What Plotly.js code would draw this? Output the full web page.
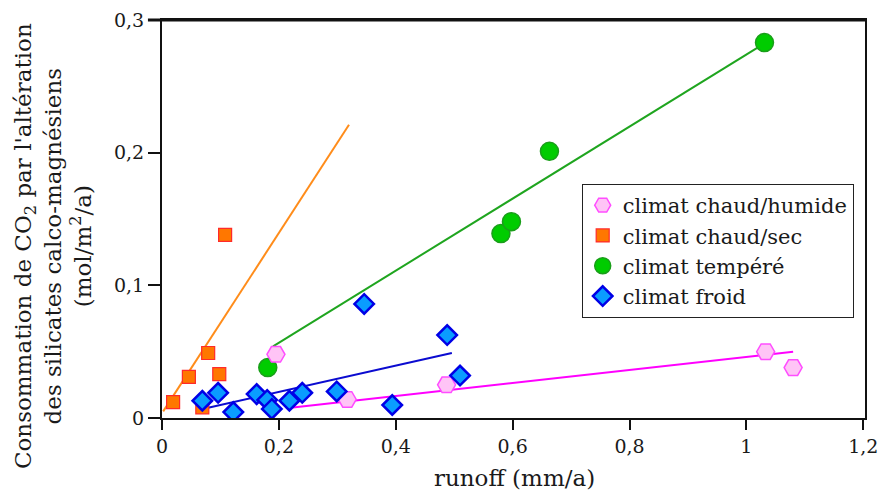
<!DOCTYPE html>
<html>
<head>
<meta charset="utf-8">
<script src="https://cdn.plot.ly/plotly-3.0.1.min.js"></script>
<style>html,body{margin:0;padding:0;background:#fff;}#chart{width:883px;height:495px;}</style>
</head>
<body>
<div id="chart"></div>
<script>
// ---- data ----
const seriesNames = ["climat chaud/humide", "climat chaud/sec", "climat tempéré", "climat froid"];

const humideX = [0.195, 0.317, 0.487, 1.033, 1.080];
const humideY = [0.048, 0.014, 0.025, 0.050, 0.038];
const humideFitX = [0.224, 1.080];
const humideFitY = [0.008, 0.050];

const secX = [0.019, 0.046, 0.069, 0.079, 0.098, 0.108];
const secY = [0.012, 0.031, 0.008, 0.049, 0.033, 0.138];
const secFitX = [0.002, 0.320];
const secFitY = [0.005, 0.221];

const tempereX = [0.181, 0.580, 0.598, 0.663, 1.031];
const tempereY = [0.038, 0.139, 0.148, 0.201, 0.283];
const tempereFitX = [0.190, 1.022];
const tempereFitY = [0.054, 0.280];

const froidX = [0.069, 0.096, 0.122, 0.162, 0.180, 0.188, 0.218, 0.240, 0.299, 0.346, 0.394, 0.488, 0.510];
const froidY = [0.013, 0.019, 0.0045, 0.018, 0.0136, 0.0068, 0.013, 0.019, 0.020, 0.086, 0.0098, 0.0625, 0.032];
const froidFitX = [0.077, 0.496];
const froidFitY = [0.0075, 0.049];

const xTickVals = [0, 0.2, 0.4, 0.6, 0.8, 1, 1.2];
const yTickVals = [0, 0.1, 0.2, 0.3];

const xTitle = "runoff (mm/a)";
const yTitle = "Consommation de CO<sub>2</sub> par l'altération<br>des silicates calco-magnésiens<br>(mol/m<sup>2</sup>/a)";

// ---- traces ----
const FONT = "DejaVu Serif";
const txt = "#1a1a1a";

function fit(x, y, color) {
  return {x: x, y: y, type: "scatter", mode: "lines", showlegend: false, hoverinfo: "skip",
          line: {color: color, width: 2}};
}

const traces = [
  fit(humideFitX, humideFitY, "#ff00ff"),
  fit(secFitX, secFitY, "#ff8c1a"),
  fit(tempereFitX, tempereFitY, "#1fa51f"),
  fit(froidFitX, froidFitY, "#0b0bd0"),
  {x: tempereX, y: tempereY, name: seriesNames[2], legendrank: 3, type: "scatter", mode: "markers",
   marker: {symbol: "circle", size: 18, color: "#00cc00", line: {color: "#1a9e1a", width: 1.5}}},
  {x: secX, y: secY, name: seriesNames[1], legendrank: 2, type: "scatter", mode: "markers",
   marker: {symbol: "square", size: 13, color: "#ff7700", line: {color: "#ff2a2a", width: 1.2}}},
  {x: humideX, y: humideY, name: seriesNames[0], legendrank: 1, type: "scatter", mode: "markers",
   marker: {symbol: "hexagon2", size: 18, color: "#ffc4f6", line: {color: "#ff4dff", width: 1.5}}},
  {x: froidX, y: froidY, name: seriesNames[3], legendrank: 4, type: "scatter", mode: "markers",
   marker: {symbol: "diamond", size: 15, color: "#0a9cff", line: {color: "#0000e6", width: 2.5}}}
];

const layout = {
  width: 883, height: 495,
  margin: {l: 162, r: 18, t: 20, b: 77, pad: 0},
  paper_bgcolor: "#fff", plot_bgcolor: "#fff",
  separators: ", ",
  font: {family: FONT, color: txt, size: 19},
  showlegend: true,
  legend: {x: 0.597, y: 0.588, xanchor: "left", yanchor: "top",
           bgcolor: "#fff", bordercolor: "#222", borderwidth: 1,
           font: {family: FONT, size: 21, color: txt}, tracegroupgap: 0},
  xaxis: {range: [0, 1.203], tickvals: xTickVals, ticks: "outside", ticklen: 10, tickwidth: 2,
          tickcolor: "#111", showline: true, linecolor: "#111", linewidth: 2, mirror: true,
          showgrid: false, zeroline: false, tickfont: {family: FONT, size: 19, color: txt}},
  yaxis: {range: [0, 0.3], tickvals: yTickVals, ticks: "outside", ticklen: 12, tickwidth: 2,
          tickcolor: "#111", showline: true, linecolor: "#111", linewidth: 2, mirror: true,
          showgrid: false, zeroline: false, tickfont: {family: FONT, size: 19, color: txt}},
  shapes: [{type: "line", xref: "paper", yref: "paper", x0: -0.02, x1: 1, y0: 1, y1: 1,
            line: {color: "#111", width: 3}}],
  annotations: [
    {text: xTitle, xref: "paper", yref: "paper", x: 0.502, y: -0.151, xanchor: "center", yanchor: "middle",
     showarrow: false, font: {family: FONT, size: 23, color: txt}},
    {text: yTitle, xref: "paper", yref: "paper", x: -0.155, y: 0.432, xanchor: "center", yanchor: "middle",
     textangle: -90, showarrow: false, font: {family: FONT, size: 23, color: txt}}
  ]
};

Plotly.newPlot("chart", traces, layout, {displayModeBar: false, staticPlot: true});
</script>
</body>
</html>
